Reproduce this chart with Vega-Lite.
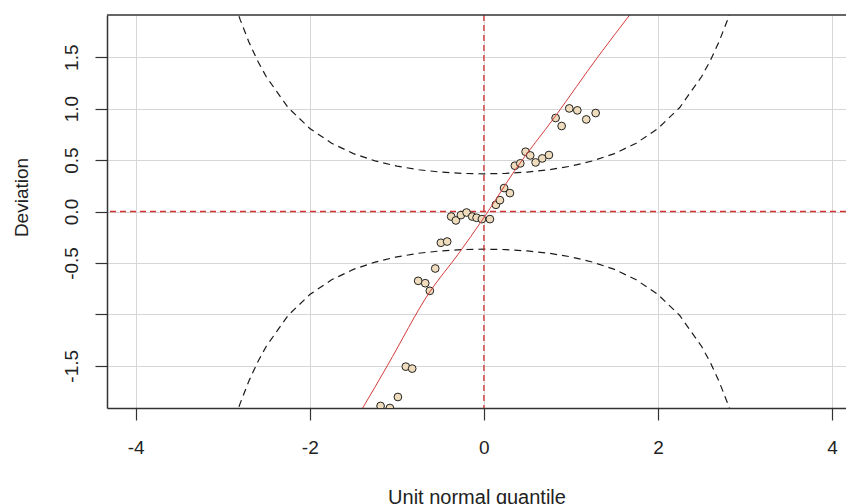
{
  "$schema": "https://vega.github.io/schema/vega-lite/v6.json",
  "width": 739,
  "height": 393,
  "autosize": {"type": "none"},
  "padding": {"left": 107, "top": 15, "right": 0, "bottom": 96},
  "background": "white",
  "config": {"view": {"stroke": null}, "font": "Liberation Sans"},
  "datasets": {
    "one": [{"k": 1}],
    "pts": [
      {"x": -1.187, "y": -1.890}, {"x": -1.080, "y": -1.910}, {"x": -0.988, "y": -1.803},
      {"x": -0.897, "y": -1.508}, {"x": -0.824, "y": -1.527}, {"x": -0.755, "y": -0.674},
      {"x": -0.674, "y": -0.697}, {"x": -0.621, "y": -0.771}, {"x": -0.559, "y": -0.554},
      {"x": -0.494, "y": -0.304}, {"x": -0.422, "y": -0.292}, {"x": -0.376, "y": -0.049},
      {"x": -0.322, "y": -0.087}, {"x": -0.264, "y": -0.035}, {"x": -0.199, "y": -0.010},
      {"x": -0.134, "y": -0.049}, {"x": -0.084, "y": -0.061}, {"x": -0.023, "y": -0.074},
      {"x": 0.069, "y": -0.074}, {"x": 0.138, "y": 0.065}, {"x": 0.184, "y": 0.110},
      {"x": 0.232, "y": 0.228}, {"x": 0.299, "y": 0.179}, {"x": 0.356, "y": 0.445},
      {"x": 0.418, "y": 0.468}, {"x": 0.479, "y": 0.581}, {"x": 0.532, "y": 0.545},
      {"x": 0.594, "y": 0.477}, {"x": 0.670, "y": 0.516}, {"x": 0.747, "y": 0.549},
      {"x": 0.824, "y": 0.909}, {"x": 0.893, "y": 0.831}, {"x": 0.981, "y": 1.002},
      {"x": 1.073, "y": 0.983}, {"x": 1.176, "y": 0.895}, {"x": 1.284, "y": 0.957}
    ],
    "band": [
      {"c": "u", "x": -2.9, "y": 2.119}, {"c": "u", "x": -2.85, "y": 1.985}, {"c": "u", "x": -2.8, "y": 1.865},
      {"c": "u", "x": -2.7, "y": 1.648}, {"c": "u", "x": -2.6, "y": 1.465}, {"c": "u", "x": -2.5, "y": 1.310},
      {"c": "u", "x": -2.25, "y": 1.011}, {"c": "u", "x": -2.0, "y": 0.807}, {"c": "u", "x": -1.75, "y": 0.664},
      {"c": "u", "x": -1.5, "y": 0.563}, {"c": "u", "x": -1.25, "y": 0.492}, {"c": "u", "x": -1.0, "y": 0.441},
      {"c": "u", "x": -0.75, "y": 0.406}, {"c": "u", "x": -0.5, "y": 0.383}, {"c": "u", "x": -0.25, "y": 0.370},
      {"c": "u", "x": 0.0, "y": 0.366}, {"c": "u", "x": 0.25, "y": 0.370}, {"c": "u", "x": 0.5, "y": 0.383},
      {"c": "u", "x": 0.75, "y": 0.406}, {"c": "u", "x": 1.0, "y": 0.441}, {"c": "u", "x": 1.25, "y": 0.492},
      {"c": "u", "x": 1.5, "y": 0.563}, {"c": "u", "x": 1.75, "y": 0.664}, {"c": "u", "x": 2.0, "y": 0.807},
      {"c": "u", "x": 2.25, "y": 1.011}, {"c": "u", "x": 2.5, "y": 1.310}, {"c": "u", "x": 2.6, "y": 1.465},
      {"c": "u", "x": 2.7, "y": 1.648}, {"c": "u", "x": 2.8, "y": 1.865}, {"c": "u", "x": 2.85, "y": 1.985},
      {"c": "u", "x": 2.9, "y": 2.119},
      {"c": "l", "x": -2.9, "y": -2.119}, {"c": "l", "x": -2.85, "y": -1.985}, {"c": "l", "x": -2.8, "y": -1.865},
      {"c": "l", "x": -2.7, "y": -1.648}, {"c": "l", "x": -2.6, "y": -1.465}, {"c": "l", "x": -2.5, "y": -1.310},
      {"c": "l", "x": -2.25, "y": -1.011}, {"c": "l", "x": -2.0, "y": -0.807}, {"c": "l", "x": -1.75, "y": -0.664},
      {"c": "l", "x": -1.5, "y": -0.563}, {"c": "l", "x": -1.25, "y": -0.492}, {"c": "l", "x": -1.0, "y": -0.441},
      {"c": "l", "x": -0.75, "y": -0.406}, {"c": "l", "x": -0.5, "y": -0.383}, {"c": "l", "x": -0.25, "y": -0.370},
      {"c": "l", "x": 0.0, "y": -0.366}, {"c": "l", "x": 0.25, "y": -0.370}, {"c": "l", "x": 0.5, "y": -0.383},
      {"c": "l", "x": 0.75, "y": -0.406}, {"c": "l", "x": 1.0, "y": -0.441}, {"c": "l", "x": 1.25, "y": -0.492},
      {"c": "l", "x": 1.5, "y": -0.563}, {"c": "l", "x": 1.75, "y": -0.664}, {"c": "l", "x": 2.0, "y": -0.807},
      {"c": "l", "x": 2.25, "y": -1.011}, {"c": "l", "x": 2.5, "y": -1.310}, {"c": "l", "x": 2.6, "y": -1.465},
      {"c": "l", "x": 2.7, "y": -1.648}, {"c": "l", "x": 2.8, "y": -1.865}, {"c": "l", "x": 2.85, "y": -1.985},
      {"c": "l", "x": 2.9, "y": -2.119}
    ],
    "fit": [
      {"x": -1.45, "y": -1.99}, {"x": -1.394, "y": -1.912}, {"x": -1.11, "y": -1.5},
      {"x": -0.621, "y": -0.78}, {"x": -0.3, "y": -0.42}, {"x": 0.0, "y": -0.06},
      {"x": 0.356, "y": 0.40}, {"x": 0.824, "y": 0.93}, {"x": 1.307, "y": 1.5},
      {"x": 1.72, "y": 1.96}
    ]
  },
  "layer": [
    {
      "data": {"name": "band"},
      "mark": {"type": "line", "color": "#1a1a1a", "strokeWidth": 1.2, "strokeDash": [7, 5], "clip": true},
      "encoding": {
        "x": {
          "field": "x", "type": "quantitative",
          "scale": {"domain": [-4.33, 4.16], "nice": false, "zero": false},
          "axis": {
            "values": [-4, -2, 0, 2, 4],
            "title": "Unit normal quantile",
            "grid": true, "gridColor": "#d6d6d6", "gridWidth": 1,
            "tickSize": 12, "tickColor": "#333", "tickWidth": 1.2,
            "domainColor": "#333", "domainWidth": 1.5,
            "labelFontSize": 19, "labelColor": "#222",
            "labelBaseline": "alphabetic", "labelPadding": 33,
            "labelFlush": false, "labelOverlap": false,
            "labelExpr": "replace(format(datum.value, 'd'), '\u2212', '-')",
            "titleFontSize": 20, "titleFontWeight": "normal", "titleColor": "#222",
            "titleBaseline": "alphabetic", "titleY": 95
          }
        },
        "y": {
          "field": "y", "type": "quantitative",
          "scale": {"domain": [-1.91, 1.91], "nice": false, "zero": false},
          "axis": {
            "values": [-1.5, -1, -0.5, 0, 0.5, 1, 1.5],
            "title": "Deviation",
            "grid": true, "gridColor": "#d6d6d6", "gridWidth": 1,
            "tickSize": 12, "tickColor": "#333", "tickWidth": 1.2,
            "domainColor": "#333", "domainWidth": 1.5,
            "labelFontSize": 19, "labelColor": "#222",
            "labelAngle": 270, "labelAlign": "center", "labelBaseline": "alphabetic",
            "labelPadding": 18, "labelOverlap": false, "labelFlush": false,
            "labelExpr": "datum.value == -1 ? '' : replace(format(datum.value, '.1f'), '\u2212', '-')",
            "titleFontSize": 19, "titleFontWeight": "normal", "titleColor": "#222",
            "titleAngle": 270, "titleBaseline": "middle", "titleAlign": "center",
            "titleX": -86, "titleY": 182
          }
        },
        "detail": {"field": "c", "type": "nominal"}
      }
    },
    {
      "data": {"name": "one"},
      "mark": {"type": "rule", "color": "#d03030", "strokeWidth": 1.5, "strokeDash": [6, 4]},
      "encoding": {"y": {"datum": 0}}
    },
    {
      "data": {"name": "one"},
      "mark": {"type": "rule", "color": "#d03030", "strokeWidth": 1.3, "strokeDash": [6, 4]},
      "encoding": {"x": {"datum": 0}}
    },
    {
      "data": {"name": "pts"},
      "mark": {"type": "point", "shape": "circle", "filled": true, "fill": "#eedcbc", "stroke": "#222", "strokeWidth": 1, "size": 60, "opacity": 1, "clip": true},
      "encoding": {
        "x": {"field": "x", "type": "quantitative"},
        "y": {"field": "y", "type": "quantitative"}
      }
    },
    {
      "data": {"name": "fit"},
      "mark": {"type": "line", "color": "#d43c3c", "strokeWidth": 1, "interpolate": "monotone", "clip": true},
      "encoding": {
        "x": {"field": "x", "type": "quantitative"},
        "y": {"field": "y", "type": "quantitative"}
      }
    },
    {
      "data": {"name": "one"},
      "mark": {"type": "rule", "color": "#333", "strokeWidth": 1.5},
      "encoding": {"y": {"datum": 1.91}}
    }
  ]
}
